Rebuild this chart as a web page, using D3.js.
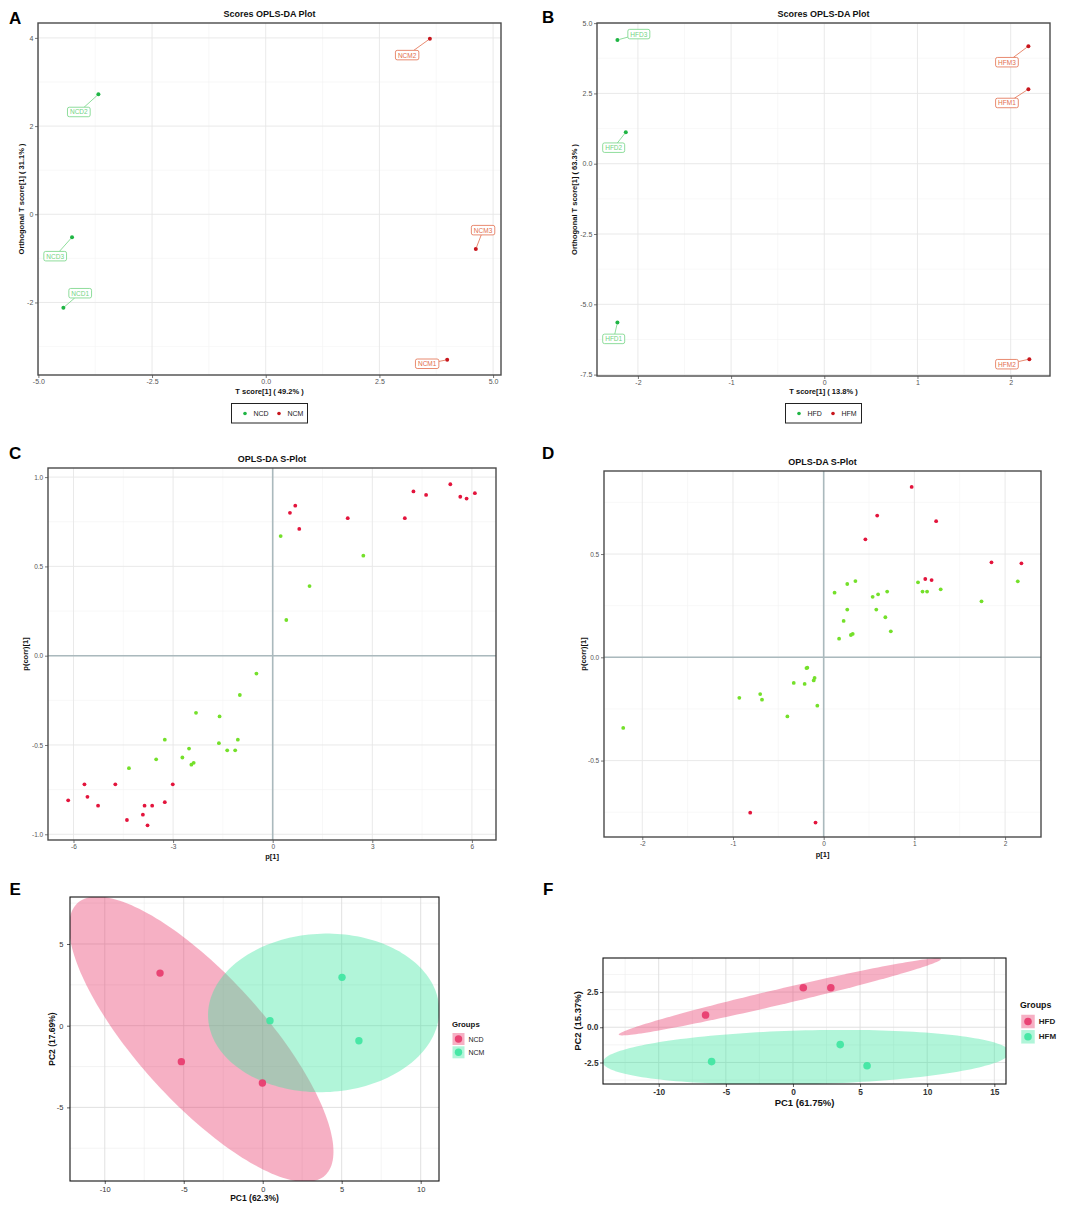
<!DOCTYPE html>
<html><head><meta charset="utf-8">
<script src="https://cdn.jsdelivr.net/npm/d3@7"></script>
<style>
body{margin:0;background:#fff}
svg{display:block}
</style>
</head><body>
<svg id="fig" width="1084" height="1206"></svg>
<script>
// ---------------- DATA ----------------
// Panel A : Scores OPLS-DA (NCD vs NCM)
const scoresA_names  = ["NCD1","NCD2","NCD3","NCM1","NCM2","NCM3"];
const scoresA_groups = ["NCD","NCD","NCD","NCM","NCM","NCM"];
const scoresA_t      = [-4.45,-3.68,-4.26, 3.99, 3.61, 4.62];
const scoresA_orth   = [-2.12, 2.72,-0.52,-3.30, 3.98,-0.79];
const scoresA_labT   = [-4.08,-4.11,-4.63, 3.55, 3.11, 4.78];
const scoresA_labO   = [-1.79, 2.32,-0.95,-3.39, 3.61,-0.36];
const scoresA_xTicks = [-5,-2.5,0,2.5,5];
const scoresA_yTicks = [-2,0,2,4];

// Panel B : Scores OPLS-DA (HFD vs HFM)
const scoresB_names  = ["HFD1","HFD2","HFD3","HFM1","HFM2","HFM3"];
const scoresB_groups = ["HFD","HFD","HFD","HFM","HFM","HFM"];
const scoresB_t      = [-2.22,-2.13,-2.22, 2.19, 2.20, 2.19];
const scoresB_orth   = [-5.65, 1.12, 4.40, 2.65,-6.95, 4.18];
const scoresB_labT   = [-2.26,-2.26,-1.99, 1.96, 1.96, 1.96];
const scoresB_labO   = [-6.23, 0.57, 4.61, 2.16,-7.13, 3.61];
const scoresB_xTicks = [-2,-1,0,1,2];
const scoresB_yTicks = [-7.5,-5,-2.5,0,2.5,5];

// Panel C : S-plot (NCD vs NCM)
const splotC_redP     = [0.52,0.68,0.80,2.26,3.98,4.24,4.62,5.35,5.65,5.84,6.09,-6.16,-5.67,-5.58,-5.26,-4.74,-4.39,-3.86,-3.91,-3.77,-3.63,-3.25,-3.01];
const splotC_redCorr  = [0.80,0.84,0.71,0.77,0.77,0.92,0.90,0.96,0.89,0.88,0.91,-0.81,-0.72,-0.79,-0.84,-0.72,-0.92,-0.84,-0.89,-0.95,-0.84,-0.82,-0.72];
const splotC_greenP   = [0.24,2.73,1.11,0.41,-0.49,-0.99,-2.31,-1.60,-3.25,-1.05,-1.62,-2.52,-1.37,-1.13,-2.72,-3.51,-2.38,-2.45,-4.33];
const splotC_greenCorr= [0.67,0.56,0.39,0.20,-0.10,-0.22,-0.32,-0.34,-0.47,-0.47,-0.49,-0.52,-0.53,-0.53,-0.57,-0.58,-0.60,-0.61,-0.63];
const splotC_xTicks = [-6,-3,0,3,6];
const splotC_yTicks = [-1,-0.5,0,0.5,1];

// Panel D : S-plot (HFD vs HFM)
const splotD_redP     = [0.97,0.59,1.24,0.46,1.85,2.18,1.12,1.19,-0.81,-0.09];
const splotD_redCorr  = [0.825,0.686,0.659,0.571,0.46,0.455,0.379,0.374,-0.752,-0.80];
const splotD_greenP   = [0.12,0.26,0.35,0.26,0.22,0.17,0.30,0.32,0.54,0.60,0.70,0.58,0.68,0.74,1.04,1.09,1.14,1.29,1.74,2.14,-0.18,-0.19,-0.10,-0.11,-0.33,-0.21,-0.93,-0.70,-0.68,-0.07,-0.40,-2.21];
const splotD_greenCorr= [0.313,0.355,0.369,0.231,0.176,0.09,0.108,0.113,0.293,0.305,0.318,0.231,0.194,0.126,0.363,0.318,0.318,0.329,0.271,0.368,-0.050,-0.052,-0.10,-0.112,-0.124,-0.129,-0.196,-0.178,-0.205,-0.234,-0.286,-0.342];
const splotD_xTicks = [-2,-1,0,1,2];
const splotD_yTicks = [-0.5,0,0.5];

// Panel E : PCA (NCD vs NCM)
const pcaE_groups = ["NCD","NCD","NCD","NCM","NCM","NCM"];
const pcaE_pc1    = [-6.50,-5.15,-0.02, 5.02, 0.46, 6.09];
const pcaE_pc2    = [ 3.22,-2.20,-3.51, 2.96, 0.31,-0.92];
const pcaE_xTicks = [-10,-5,0,5,10];
const pcaE_yTicks = [-5,0,5];

// Panel F : PCA (HFD vs HFM)
const pcaF_groups = ["HFD","HFD","HFD","HFM","HFM","HFM"];
const pcaF_pc1    = [-6.51, 0.77, 2.82,-6.06, 3.52, 5.52];
const pcaF_pc2    = [ 0.87, 2.81, 2.81,-2.44,-1.23,-2.73];
const pcaF_xTicks = [-10,-5,0,5,10,15];
const pcaF_yTicks = [-2.5,0,2.5];

// ---------------- DRAWING ----------------
const FONT = '"Liberation Sans", Arial, Helvetica, sans-serif';
const svg = d3.select("#fig");
const fmtMinus = f => d => d3.format(f)(d).replace("\u2212","-");
let clipN = 0;

function panel(o){
  const g = svg.append("g");
  const x = d3.scaleLinear().domain(o.xd).range([o.l,o.r]);
  const y = d3.scaleLinear().domain(o.yd).range([o.b,o.t]);
  const id = "clip"+(clipN++);
  svg.append("clipPath").attr("id",id).append("rect")
     .attr("x",o.l).attr("y",o.t).attr("width",o.r-o.l).attr("height",o.b-o.t);
  const grid = g.append("g");
  // minor grid
  const mid = arr => arr.slice(1).map((v,i)=>(v+arr[i])/2);
  const stepX = o.xt[1]-o.xt[0], stepY = o.yt[1]-o.yt[0];
  const xMinor = mid([o.xt[0]-stepX, ...o.xt, o.xt[o.xt.length-1]+stepX]).filter(v=>v>o.xd[0]&&v<o.xd[1]);
  const yMinor = mid([o.yt[0]-stepY, ...o.yt, o.yt[o.yt.length-1]+stepY]).filter(v=>v>o.yd[0]&&v<o.yd[1]);
  grid.selectAll(".vmin").data(xMinor).join("line")
    .attr("x1",d=>x(d)).attr("x2",d=>x(d)).attr("y1",o.t).attr("y2",o.b)
    .attr("stroke",o.minorCol).attr("stroke-width",o.minorW);
  grid.selectAll(".hmin").data(yMinor).join("line")
    .attr("y1",d=>y(d)).attr("y2",d=>y(d)).attr("x1",o.l).attr("x2",o.r)
    .attr("stroke",o.minorCol).attr("stroke-width",o.minorW);
  grid.selectAll(".vmaj").data(o.xt).join("line")
    .attr("x1",d=>x(d)).attr("x2",d=>x(d)).attr("y1",o.t).attr("y2",o.b)
    .attr("stroke",o.majorCol).attr("stroke-width",o.majorW);
  grid.selectAll(".hmaj").data(o.yt).join("line")
    .attr("y1",d=>y(d)).attr("y2",d=>y(d)).attr("x1",o.l).attr("x2",o.r)
    .attr("stroke",o.majorCol).attr("stroke-width",o.majorW);
  const plot = g.append("g").attr("clip-path",`url(#${id})`);
  const front = g.append("g");
  // axes
  const ax = front.append("g").attr("transform",`translate(0,${o.b})`)
    .call(d3.axisBottom(x).tickValues(o.xt).tickFormat(fmtMinus(o.xf)).tickSize(3).tickPadding(o.xpad));
  const ay = front.append("g").attr("transform",`translate(${o.l},0)`)
    .call(d3.axisLeft(y).tickValues(o.yt).tickFormat(fmtMinus(o.yf)).tickSize(3).tickPadding(o.ypad));
  [ax,ay].forEach(a=>{
    a.select(".domain").remove();
    a.attr("font-family",FONT).attr("font-size",o.tickFs);
    a.selectAll(".tick line").attr("stroke",o.tickCol).attr("stroke-width",0.8);
    a.selectAll(".tick text").attr("fill",o.tickCol).attr("font-weight",o.tickW||"normal");
  });
  front.append("rect").attr("x",o.l).attr("y",o.t).attr("width",o.r-o.l).attr("height",o.b-o.t)
    .attr("fill","none").attr("stroke",o.borderCol).attr("stroke-width",o.borderW);
  // titles
  if(o.title) front.append("text").attr("x",(o.l+o.r)/2).attr("y",o.titleY).attr("text-anchor","middle")
    .attr("font-family",FONT).attr("font-size",o.titleFs).attr("font-weight","bold").attr("fill","#111").text(o.title);
  front.append("text").attr("x",(o.l+o.r)/2).attr("y",o.xTitleY).attr("text-anchor","middle")
    .attr("font-family",FONT).attr("font-size",o.axFs).attr("font-weight","bold").attr("fill","#111").text(o.xTitle);
  const cy=(o.t+o.b)/2;
  front.append("text").attr("transform",`translate(${o.yTitleX},${cy}) rotate(-90)`).attr("text-anchor","middle")
    .attr("dominant-baseline","central")
    .attr("font-family",FONT).attr("font-size",o.axFs).attr("font-weight","bold").attr("fill","#111").text(o.yTitle);
  return {g, plot, front, x, y};
}

function panelLabel(t,x,y){
  svg.append("text").attr("x",x).attr("y",y).attr("font-family",FONT).attr("font-size",17)
    .attr("font-weight","bold").attr("fill","#000").text(t);
}

// ---- Score plots (A, B) ----
const scoreStyle = {minorCol:"#f4f4f4",minorW:0.6,majorCol:"#e6e6e6",majorW:0.9,
  tickCol:"#555",tickFs:7,borderCol:"#4a4a4a",borderW:1.4,titleFs:9,axFs:7.5,xpad:1.5,ypad:1.7};
const ptCol = {green:"#1fb544", red:"#c8161d"};
const labCol = {green:"#72d483", red:"#e26d4c"};

function scorePanel(o, names, groups, tv, ov, lt, lo, legendNames){
  const P = panel(Object.assign({}, scoreStyle, o));
  const col = g => (g===legendNames[0] ? "green" : "red");
  // labels + segments
  names.forEach((n,i)=>{
    const c = col(groups[i]);
    const px = P.x(tv[i]), py = P.y(ov[i]);
    const cx = P.x(lt[i]), cy = P.y(lo[i]);
    const gl = P.plot.append("g");
    const txt = gl.append("text").attr("x",cx).attr("y",cy).attr("text-anchor","middle")
      .attr("dominant-baseline","central").attr("font-family",FONT).attr("font-size",6.5)
      .attr("fill",labCol[c]).text(n);
    const w = txt.node().getComputedTextLength()+5, h = 9.5;
    gl.insert("rect","text").attr("x",cx-w/2).attr("y",cy-h/2).attr("width",w).attr("height",h)
      .attr("rx",1.8).attr("fill","#fff").attr("stroke",labCol[c]).attr("stroke-width",0.8);
    const dx = px-cx, dy = py-cy;
    const tt = Math.min(Math.abs(dx)>1e-6 ? (w/2)/Math.abs(dx) : 1e9, Math.abs(dy)>1e-6 ? (h/2)/Math.abs(dy) : 1e9);
    if (tt < 1) {
      const sx = cx+dx*tt, sy = cy+dy*tt;
      const len = Math.hypot(px-sx,py-sy), sh = Math.max(0,len-2)/len;
      P.plot.insert("line", ":first-child").attr("x1",sx).attr("y1",sy)
        .attr("x2",sx+(px-sx)*sh).attr("y2",sy+(py-sy)*sh)
        .attr("stroke",labCol[c]).attr("stroke-width",0.8);
    }
  });
  P.plot.selectAll(".pt").data(names).join("circle")
    .attr("cx",(d,i)=>P.x(tv[i])).attr("cy",(d,i)=>P.y(ov[i])).attr("r",2)
    .attr("fill",(d,i)=>ptCol[col(groups[i])]);
  // legend
  const lc = (o.l+o.r)/2, lw = 76;
  const lg = svg.append("g");
  lg.append("rect").attr("x",lc-lw/2).attr("y",403.5).attr("width",lw).attr("height",19.5)
    .attr("fill","#fff").attr("stroke","#222").attr("stroke-width",1);
  [[legendNames[0],"green",lc-24.5],[legendNames[1],"red",lc+9.5]].forEach(([n,c,xx])=>{
    lg.append("circle").attr("cx",xx).attr("cy",413.5).attr("r",1.8).attr("fill",ptCol[c]);
    lg.append("text").attr("x",xx+8.5).attr("y",413.5).attr("dominant-baseline","central")
      .attr("font-family",FONT).attr("font-size",7).attr("fill","#222").text(n);
  });
  return P;
}

scorePanel({l:38,r:501,t:23,b:375,xd:[-5.008,5.174],yd:[-3.645,4.338],
  xt:scoresA_xTicks,yt:scoresA_yTicks,xf:".1f",yf:"d",
  title:"Scores OPLS-DA Plot",titleY:16.5,xTitle:"T score[1] ( 49.2% )",xTitleY:394,
  yTitle:"Orthogonal T score[1] ( 31.1% )",yTitleX:21},
  scoresA_names,scoresA_groups,scoresA_t,scoresA_orth,scoresA_labT,scoresA_labO,["NCD","NCM"]);

scorePanel({l:597,r:1050,t:23,b:376,xd:[-2.439,2.422],yd:[-7.55,5.004],
  xt:scoresB_xTicks,yt:scoresB_yTicks,xf:"d",yf:".1f",
  title:"Scores OPLS-DA Plot",titleY:16.5,xTitle:"T score[1] ( 13.8% )",xTitleY:394,
  yTitle:"Orthogonal T score[1] ( 63.3% )",yTitleX:574},
  scoresB_names,scoresB_groups,scoresB_t,scoresB_orth,scoresB_labT,scoresB_labO,["HFD","HFM"]);

// ---- S-plots (C, D) ----
const sCol = {red:"#e3143c", green:"#74e02a"};
function sPanel(o, rp, rc, gp, gc){
  const P = panel(Object.assign({}, scoreStyle, {tickFs:6.5, axFs:7.5, titleFs:9, xpad:1.8, ypad:1.8}, o));
  P.plot.append("line").attr("x1",P.x(0)).attr("x2",P.x(0)).attr("y1",o.t).attr("y2",o.b)
    .attr("stroke","#aab9bd").attr("stroke-width",1.6);
  P.plot.append("line").attr("y1",P.y(0)).attr("y2",P.y(0)).attr("x1",o.l).attr("x2",o.r)
    .attr("stroke","#aab9bd").attr("stroke-width",1.6);
  P.plot.selectAll(".gp").data(gp).join("circle")
    .attr("cx",d=>P.x(d)).attr("cy",(d,i)=>P.y(gc[i])).attr("r",1.9).attr("fill",sCol.green);
  P.plot.selectAll(".rp").data(rp).join("circle")
    .attr("cx",d=>P.x(d)).attr("cy",(d,i)=>P.y(rc[i])).attr("r",1.9).attr("fill",sCol.red);
  return P;
}
sPanel({l:48,r:496,t:468,b:840,xd:[-6.768,6.726],yd:[-1.032,1.051],
  xt:splotC_xTicks,yt:splotC_yTicks,xf:"d",yf:".1f",
  title:"OPLS-DA S-Plot",titleY:462,xTitle:"p[1]",xTitleY:859,yTitle:"p(corr)[1]",yTitleX:25},
  splotC_redP,splotC_redCorr,splotC_greenP,splotC_greenCorr);
sPanel({l:604,r:1041,t:471,b:837,xd:[-2.422,2.396],yd:[-0.870,0.902],
  xt:splotD_xTicks,yt:splotD_yTicks,xf:"d",yf:".1f",
  title:"OPLS-DA S-Plot",titleY:464.5,xTitle:"p[1]",xTitleY:856.5,yTitle:"p(corr)[1]",yTitleX:583},
  splotD_redP,splotD_redCorr,splotD_greenP,splotD_greenCorr);

// ---- PCA (E, F) ----
const pcaCol = {a:"#e8396b", b:"#3de6a0"};
function ellipsePts(xs, ys, level){
  const n = xs.length, mx = d3.mean(xs), my = d3.mean(ys);
  let sxx=0, syy=0, sxy=0;
  for(let i=0;i<n;i++){const dx=xs[i]-mx, dy=ys[i]-my; sxx+=dx*dx; syy+=dy*dy; sxy+=dx*dy;}
  sxx/=(n-1); syy/=(n-1); sxy/=(n-1);
  const tr=sxx+syy, det=sxx*syy-sxy*sxy, disc=Math.sqrt(Math.max(0,tr*tr/4-det));
  const l1=tr/2+disc, l2=Math.max(0,tr/2-disc);
  const th=Math.atan2(l1-sxx, sxy);
  const rad=Math.sqrt(-2*Math.log(1-level)); // chi-square (2 df) quantile
  return d3.range(0,360,2).map(deg=>{
    const t=deg*Math.PI/180, a=rad*Math.sqrt(l1)*Math.cos(t), b=rad*Math.sqrt(l2)*Math.sin(t);
    return [mx+a*Math.cos(th)-b*Math.sin(th), my+a*Math.sin(th)+b*Math.cos(th)];
  });
}
function pcaPanel(o, groups, pc1, pc2, names, leg){
  const P = panel(Object.assign({minorCol:"#ececec",minorW:0.6,majorCol:"#dedede",majorW:0.9,
    tickCol:"#333",borderCol:"#111",borderW:1.1,ypad:3.5}, o));
  const line = d3.line().x(d=>P.x(d[0])).y(d=>P.y(d[1])).curve(d3.curveLinearClosed);
  names.forEach((nm,k)=>{
    const idx = groups.map((g,i)=>g===nm?i:-1).filter(i=>i>=0);
    const pts = ellipsePts(idx.map(i=>pc1[i]), idx.map(i=>pc2[i]), 0.95);
    P.plot.append("path").attr("d",line(pts)).attr("fill",k===0?pcaCol.a:pcaCol.b).attr("fill-opacity",0.4);
  });
  P.plot.selectAll(".pp").data(groups).join("circle")
    .attr("cx",(d,i)=>P.x(pc1[i])).attr("cy",(d,i)=>P.y(pc2[i])).attr("r",o.pr)
    .attr("fill",d=>d===names[0]?pcaCol.a:pcaCol.b).attr("fill-opacity",0.9);
  // legend
  const lg = svg.append("g");
  lg.append("text").attr("x",leg.x).attr("y",leg.ty).attr("font-family",FONT).attr("font-size",leg.tfs)
    .attr("font-weight","bold").attr("fill","#111").text("Groups");
  names.forEach((nm,k)=>{
    const ky = leg.ky + k*leg.dy;
    lg.append("rect").attr("x",leg.kx-leg.ks/2).attr("y",ky-leg.ks/2).attr("width",leg.ks).attr("height",leg.ks)
      .attr("fill",k===0?pcaCol.a:pcaCol.b).attr("fill-opacity",0.4);
    lg.append("circle").attr("cx",leg.kx).attr("cy",ky).attr("r",o.pr)
      .attr("fill",k===0?pcaCol.a:pcaCol.b).attr("fill-opacity",0.9);
    lg.append("text").attr("x",leg.kx+leg.ks/2+4).attr("y",ky).attr("dominant-baseline","central")
      .attr("font-family",FONT).attr("font-size",leg.lfs).attr("font-weight",leg.lw).attr("fill","#222").text(nm);
  });
  return P;
}
pcaPanel({l:70,r:439,t:897,b:1181,xd:[-12.2,11.16],yd:[-9.505,7.876],
  xt:pcaE_xTicks,yt:pcaE_yTicks,xf:"d",yf:"d",tickFs:7.5,xpad:2.2,
  xTitle:"PC1 (62.3%)",xTitleY:1201,yTitle:"PC2 (17.69%)",yTitleX:52,axFs:8.5,pr:3.7},
  pcaE_groups,pcaE_pc1,pcaE_pc2,["NCD","NCM"],
  {x:452,ty:1027,tfs:7.8,kx:458.5,ky:1039,dy:13.3,ks:12,lfs:7,lw:"normal"});
pcaPanel({l:603,r:1006,t:958,b:1084,xd:[-14.15,15.87],yd:[-4.03,4.92],
  xt:pcaF_xTicks,yt:pcaF_yTicks,xf:"d",yf:".1f",tickFs:8.3,tickW:"bold",xpad:2,ypad:1.5,
  xTitle:"PC1 (61.75%)",xTitleY:1106,yTitle:"PC2 (15.37%)",yTitleX:577,axFs:9.5,pr:3.8},
  pcaF_groups,pcaF_pc1,pcaF_pc2,["HFD","HFM"],
  {x:1020,ty:1007.5,tfs:8.8,kx:1028,ky:1021.5,dy:15.3,ks:13.5,lfs:8,lw:"bold"});

// panel letters
panelLabel("A",9,23.5); panelLabel("B",542,23); panelLabel("C",9,459); panelLabel("D",542,459);
panelLabel("E",9.5,894.5); panelLabel("F",543,894.5);
</script>
</body></html>
